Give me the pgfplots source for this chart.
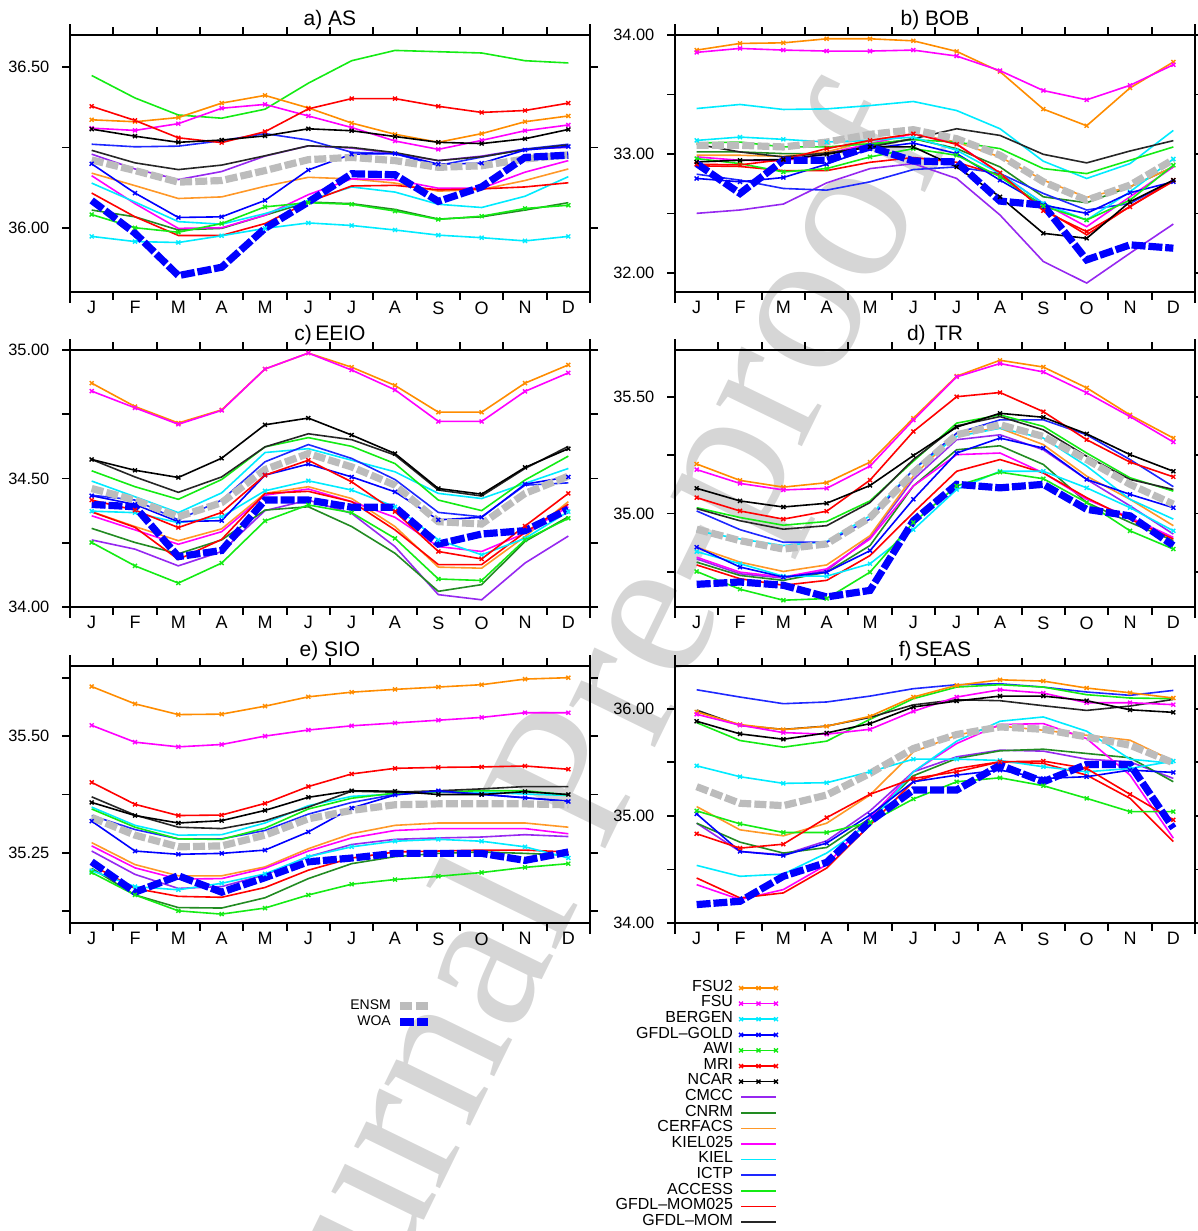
\documentclass[border=0pt]{standalone}
\usepackage{pgfplots}
\usepackage{pgfplotstable}
\pgfplotsset{compat=1.18}
\usepackage{fontspec}
\setmainfont{Liberation Sans}
\newfontfamily\wmfont{Liberation Serif}

% model colours
\definecolor{cOrange}{RGB}{255,140,0}
\definecolor{cOrangeB}{RGB}{255,152,40}
\definecolor{cMagenta}{RGB}{255,0,255}
\definecolor{cCyan}{RGB}{0,235,255}
\definecolor{cBlue}{RGB}{0,0,255}
\definecolor{cBlueB}{RGB}{30,40,255}
\definecolor{cGreen}{RGB}{20,235,20}
\definecolor{cRed}{RGB}{255,0,0}
\definecolor{cPurple}{RGB}{150,40,240}
\definecolor{cForest}{RGB}{34,139,34}
\definecolor{cEnsm}{RGB}{188,188,188}

% monthly salinity, one row per model (columns = months)
\pgfplotstableread{
name 1 2 3 4 5 6 7 8 9 10 11 12
FSU2 36.336 36.330 36.343 36.388 36.412 36.373 36.326 36.291 36.266 36.293 36.330 36.348
FSU 36.310 36.303 36.324 36.372 36.384 36.348 36.312 36.270 36.244 36.272 36.302 36.320
BERGEN 35.973 35.957 35.954 35.975 35.998 36.015 36.007 35.993 35.977 35.969 35.959 35.973
GOLD 36.199 36.108 36.032 36.034 36.085 36.180 36.229 36.231 36.198 36.201 36.242 36.253
AWI 36.041 36.000 35.986 36.013 36.065 36.078 36.073 36.052 36.026 36.036 36.060 36.070
MRI 36.378 36.334 36.280 36.265 36.299 36.370 36.402 36.402 36.378 36.359 36.365 36.388
NCAR 36.307 36.285 36.266 36.273 36.286 36.308 36.302 36.284 36.266 36.262 36.277 36.306
CMCC 36.229 36.183 36.150 36.175 36.223 36.255 36.248 36.231 36.209 36.223 36.245 36.250
CNRM 36.055 36.034 35.993 35.998 36.039 36.080 36.075 36.057 36.027 36.034 36.055 36.078
CERFACS 36.170 36.131 36.091 36.096 36.129 36.157 36.152 36.139 36.114 36.119 36.147 36.183
KIELq 36.162 36.075 35.998 36.000 36.039 36.103 36.152 36.149 36.123 36.123 36.173 36.209
KIEL 36.139 36.080 36.019 36.011 36.044 36.085 36.127 36.111 36.073 36.063 36.098 36.159
ICTP 36.260 36.252 36.254 36.271 36.293 36.273 36.235 36.230 36.194 36.220 36.245 36.260
ACCESS 36.474 36.404 36.351 36.341 36.369 36.450 36.520 36.552 36.548 36.544 36.520 36.513
MOMq 36.108 36.034 35.976 35.976 36.013 36.080 36.130 36.132 36.118 36.121 36.127 36.140
MOM 36.241 36.202 36.181 36.195 36.224 36.255 36.250 36.234 36.209 36.221 36.243 36.258
ENSM 36.211 36.178 36.142 36.147 36.178 36.212 36.219 36.209 36.188 36.193 36.214 36.227
WOA 36.085 35.983 35.851 35.877 35.998 36.080 36.168 36.165 36.082 36.127 36.219 36.226
}\rawA
\pgfplotstableread{
name 1 2 3 4 5 6 7 8 9 10 11 12
FSU2 33.873 33.929 33.934 33.968 33.968 33.951 33.862 33.692 33.377 33.237 33.555 33.773
FSU 33.854 33.887 33.873 33.865 33.865 33.873 33.823 33.700 33.533 33.455 33.577 33.750
BERGEN 33.114 33.142 33.123 33.100 33.114 33.142 33.031 32.835 32.584 32.445 32.682 32.958
GOLD 32.794 32.766 32.802 32.914 33.045 33.092 33.003 32.780 32.570 32.501 32.674 32.766
AWI 32.961 32.919 32.849 32.877 32.975 33.045 32.989 32.808 32.562 32.445 32.612 32.905
MRI 32.914 32.908 32.953 33.045 33.114 33.170 33.081 32.841 32.523 32.347 32.556 32.780
NCAR 32.933 32.947 32.953 32.997 33.059 33.059 32.891 32.640 32.333 32.291 32.598 32.780
CMCC 32.501 32.529 32.579 32.757 32.877 32.919 32.794 32.487 32.096 31.915 32.166 32.411
CNRM 33.017 33.017 33.003 33.003 33.073 33.128 33.045 32.891 32.640 32.590 32.724 32.891
CERFACS 32.989 32.989 32.980 33.017 33.114 33.170 33.100 32.975 32.780 32.635 32.724 32.891
KIELq 32.975 32.947 32.941 33.003 33.086 33.170 33.086 32.835 32.584 32.389 32.640 32.891
KIEL 33.382 33.416 33.374 33.379 33.407 33.441 33.365 33.212 32.939 32.794 32.919 33.198
ICTP 32.830 32.780 32.710 32.696 32.766 32.869 32.891 32.835 32.668 32.529 32.584 32.780
ACCESS 33.092 33.100 33.059 33.059 33.086 33.120 33.100 33.045 32.877 32.835 32.947 33.059
MOMq 32.900 32.895 32.860 32.860 32.930 32.970 32.930 32.820 32.540 32.320 32.560 32.770
MOM 33.081 33.017 32.975 33.008 33.059 33.128 33.212 33.156 32.997 32.925 33.025 33.112
ENSM 33.073 33.073 33.059 33.100 33.165 33.204 33.128 32.989 32.766 32.612 32.738 32.953
WOA 32.919 32.668 32.947 32.947 33.059 32.941 32.933 32.604 32.570 32.110 32.236 32.208
}\rawB
\pgfplotstableread{
name 1 2 3 4 5 6 7 8 9 10 11 12
FSU2 34.871 34.780 34.716 34.767 34.926 34.988 34.933 34.862 34.758 34.758 34.871 34.942
FSU 34.840 34.775 34.711 34.765 34.926 34.988 34.922 34.845 34.722 34.722 34.839 34.911
BERGEN 34.373 34.367 34.328 34.351 34.452 34.491 34.455 34.390 34.261 34.203 34.267 34.371
GOLD 34.433 34.399 34.332 34.336 34.513 34.556 34.506 34.448 34.339 34.349 34.478 34.506
AWI 34.251 34.160 34.093 34.171 34.335 34.397 34.367 34.267 34.109 34.103 34.261 34.345
MRI 34.416 34.377 34.309 34.368 34.513 34.571 34.487 34.371 34.216 34.187 34.315 34.442
NCAR 34.574 34.532 34.504 34.579 34.709 34.735 34.669 34.597 34.461 34.439 34.543 34.616
CMCC 34.261 34.225 34.160 34.216 34.375 34.416 34.364 34.235 34.048 34.028 34.171 34.276
CNRM 34.306 34.251 34.207 34.261 34.377 34.390 34.313 34.209 34.061 34.087 34.255 34.351
CERFACS 34.371 34.313 34.258 34.304 34.442 34.468 34.422 34.313 34.155 34.151 34.274 34.410
KIELq 34.355 34.300 34.244 34.293 34.435 34.459 34.410 34.349 34.235 34.216 34.287 34.390
KIEL 34.490 34.429 34.367 34.444 34.601 34.616 34.571 34.526 34.442 34.422 34.481 34.539
ICTP 34.435 34.416 34.339 34.416 34.565 34.632 34.578 34.496 34.368 34.351 34.474 34.483
ACCESS 34.530 34.468 34.419 34.496 34.623 34.659 34.625 34.558 34.416 34.375 34.494 34.587
MOMq 34.370 34.310 34.185 34.263 34.442 34.450 34.410 34.300 34.165 34.165 34.290 34.400
MOM 34.574 34.506 34.446 34.506 34.623 34.674 34.651 34.591 34.455 34.432 34.539 34.625
ENSM 34.461 34.416 34.351 34.406 34.535 34.597 34.545 34.474 34.332 34.323 34.442 34.509
WOA 34.399 34.390 34.196 34.220 34.416 34.416 34.388 34.388 34.245 34.284 34.297 34.380
}\rawC
\pgfplotstableread{
name 1 2 3 4 5 6 7 8 9 10 11 12
FSU2 35.212 35.142 35.113 35.132 35.220 35.408 35.588 35.656 35.627 35.538 35.422 35.323
FSU 35.188 35.129 35.101 35.108 35.203 35.400 35.585 35.642 35.606 35.517 35.415 35.306
BERGEN 34.837 34.785 34.732 34.732 34.785 34.931 35.103 35.181 35.181 35.110 35.025 34.926
GOLD 34.856 34.771 34.728 34.749 34.841 35.061 35.259 35.323 35.280 35.146 35.082 35.025
AWI 34.752 34.676 34.629 34.636 34.749 34.962 35.118 35.177 35.149 35.047 34.926 34.848
MRI 35.068 35.011 34.976 35.010 35.143 35.351 35.500 35.518 35.436 35.316 35.220 35.157
NCAR 35.108 35.054 35.028 35.044 35.120 35.248 35.370 35.429 35.412 35.341 35.252 35.181
CMCC 34.806 34.742 34.724 34.756 34.898 35.146 35.316 35.337 35.273 35.146 35.033 34.912
CNRM 34.792 34.735 34.714 34.749 34.863 35.118 35.273 35.290 35.210 35.047 34.962 34.884
CERFACS 34.856 34.792 34.752 34.780 34.905 35.160 35.344 35.365 35.295 35.160 35.061 34.948
KIELq 34.813 34.749 34.728 34.763 34.891 35.118 35.252 35.259 35.174 35.061 34.983 34.898
KIEL 34.926 34.891 34.863 34.880 34.990 35.188 35.330 35.365 35.323 35.203 35.061 34.976
ICTP 35.011 34.931 34.877 34.877 34.976 35.188 35.344 35.401 35.401 35.337 35.231 35.115
ACCESS 35.025 34.983 34.950 34.966 35.054 35.224 35.387 35.422 35.373 35.259 35.153 35.096
MOMq 34.780 34.721 34.693 34.714 34.820 35.004 35.181 35.231 35.174 35.068 34.976 34.891
MOM 35.021 34.969 34.933 34.948 35.047 35.231 35.375 35.415 35.358 35.245 35.146 35.103
ENSM 34.933 34.884 34.848 34.870 34.983 35.174 35.337 35.380 35.330 35.231 35.125 35.040
WOA 34.697 34.707 34.693 34.643 34.671 34.969 35.125 35.110 35.125 35.018 34.990 34.863
}\rawD
\pgfplotstableread{
name 1 2 3 4 5 6 7 8 9 10 11 12
FSU2 35.606 35.569 35.546 35.547 35.564 35.584 35.594 35.600 35.605 35.610 35.622 35.625
FSU 35.523 35.487 35.477 35.482 35.500 35.513 35.522 35.528 35.534 35.540 35.550 35.550
BERGEN 35.212 35.178 35.171 35.185 35.205 35.242 35.263 35.275 35.279 35.275 35.263 35.239
GOLD 35.318 35.254 35.247 35.249 35.256 35.295 35.346 35.374 35.383 35.375 35.368 35.360
AWI 35.208 35.160 35.126 35.119 35.132 35.160 35.183 35.193 35.200 35.208 35.219 35.227
MRI 35.401 35.354 35.330 35.331 35.356 35.392 35.419 35.431 35.433 35.434 35.436 35.429
NCAR 35.358 35.330 35.314 35.319 35.341 35.369 35.383 35.382 35.375 35.375 35.381 35.375
CMCC 35.254 35.204 35.174 35.178 35.203 35.242 35.268 35.279 35.282 35.284 35.289 35.285
CNRM 35.217 35.160 35.133 35.132 35.154 35.195 35.227 35.242 35.249 35.252 35.249 35.245
CERFACS 35.272 35.225 35.201 35.201 35.220 35.259 35.291 35.309 35.314 35.314 35.314 35.305
KIELq 35.265 35.218 35.194 35.195 35.217 35.254 35.282 35.298 35.302 35.302 35.302 35.291
KIEL 35.348 35.309 35.288 35.289 35.314 35.351 35.371 35.376 35.380 35.380 35.376 35.373
ICTP 35.330 35.300 35.280 35.280 35.298 35.333 35.358 35.375 35.381 35.376 35.368 35.361
ACCESS 35.344 35.305 35.280 35.279 35.303 35.344 35.367 35.378 35.381 35.383 35.383 35.374
MOMq 35.224 35.174 35.157 35.155 35.176 35.213 35.239 35.252 35.254 35.256 35.256 35.252
MOM 35.370 35.331 35.305 35.302 35.319 35.348 35.382 35.380 35.383 35.387 35.392 35.392
ENSM 35.326 35.288 35.263 35.265 35.288 35.323 35.341 35.353 35.355 35.355 35.355 35.353
WOA 35.231 35.166 35.201 35.166 35.197 35.231 35.239 35.249 35.249 35.249 35.234 35.252
}\rawE
\pgfplotstableread{
name 1 2 3 4 5 6 7 8 9 10 11 12
FSU2 35.971 35.853 35.806 35.837 35.930 36.110 36.219 36.271 36.259 36.194 36.150 36.101
FSU 35.949 35.847 35.778 35.763 35.809 35.977 36.110 36.178 36.147 36.057 36.057 36.039
BERGEN 35.468 35.366 35.304 35.310 35.412 35.530 35.530 35.518 35.459 35.412 35.443 35.512
GOLD 35.019 34.668 34.631 34.746 35.009 35.319 35.381 35.428 35.350 35.366 35.428 35.406
AWI 35.047 34.926 34.845 34.845 34.940 35.158 35.319 35.356 35.282 35.164 35.040 35.040
MRI 34.833 34.699 34.736 34.984 35.202 35.350 35.412 35.505 35.512 35.443 35.202 34.963
NCAR 35.884 35.766 35.716 35.775 35.862 36.017 36.073 36.119 36.119 36.076 35.991 35.967
CMCC 34.932 34.668 34.637 34.767 35.047 35.412 35.552 35.614 35.605 35.530 35.505 35.350
CNRM 34.932 34.755 34.653 34.705 34.978 35.375 35.536 35.608 35.623 35.583 35.543 35.319
CERFACS 35.087 34.870 34.814 34.932 35.195 35.598 35.753 35.840 35.800 35.753 35.707 35.512
KIELq 34.358 34.219 34.312 34.544 34.984 35.412 35.676 35.853 35.862 35.722 35.381 34.792
KIEL 34.538 34.436 34.457 34.653 34.932 35.412 35.698 35.884 35.924 35.791 35.530 35.490
ICTP 36.178 36.110 36.048 36.064 36.119 36.188 36.225 36.234 36.203 36.157 36.126 36.172
ACCESS 35.871 35.704 35.642 35.698 35.902 36.095 36.203 36.225 36.203 36.132 36.101 36.095
MOMq 34.420 34.234 34.281 34.513 34.916 35.319 35.443 35.505 35.490 35.381 35.164 34.761
MOM 35.988 35.845 35.808 35.839 35.920 36.037 36.085 36.076 36.029 35.985 36.026 36.088
ENSM 35.273 35.118 35.096 35.195 35.397 35.629 35.760 35.831 35.809 35.738 35.660 35.496
WOA 34.172 34.203 34.436 34.566 34.947 35.242 35.242 35.474 35.319 35.481 35.481 34.885
}\rawF
\pgfplotstabletranspose[colnames from=name]\tabA\rawA
\pgfplotstabletranspose[colnames from=name]\tabB\rawB
\pgfplotstabletranspose[colnames from=name]\tabC\rawC
\pgfplotstabletranspose[colnames from=name]\tabD\rawD
\pgfplotstabletranspose[colnames from=name]\tabE\rawE
\pgfplotstabletranspose[colnames from=name]\tabF\rawF

\pgfplotsset{
  mk/.style={line width=0.8pt, mark=x, mark size=1.4pt, mark options={solid, line width=0.7pt}},
  pl/.style={line width=0.8pt, mark=none},
  ensm/.style={line width=3.6pt, color=cEnsm, dash pattern=on 6pt off 1.6pt, mark=none},
  woa/.style={line width=3.6pt, color=cBlue, dash pattern=on 7pt off 1.4pt, mark=none},
  panel/.style={
    scale only axis, width=260pt, height=128.5pt,
    xmin=0.5, xmax=12.5,
    xtick={0.5,1.5,...,12.5}, xticklabels={},
    extra x ticks={1,...,12},
    extra x tick labels={J,F,M,A,M,J,J,A,S,O,N,D},
    extra x tick style={major tick length=0pt},
    tick align=outside, major tick length=3.8pt, minor tick length=3.8pt,
    every tick/.style={black, line width=0.9pt},
    separate axis lines,
    axis line style={line width=0.9pt},
    y axis line style={shorten <=-5.5pt, shorten >=-5.5pt},
    scaled y ticks=false,
    yticklabel style={/pgf/number format/fixed, /pgf/number format/fixed zerofill,
      /pgf/number format/precision=2, /pgf/number format/assume math mode=true,
      xshift=-3pt},
    tick label style={font=\fontsize{8.2}{8.2}\selectfont},
    xticklabel style={font=\fontsize{9}{9}\selectfont, yshift=-1.2pt},
    title style={font=\fontsize{10.5}{10.5}\selectfont, at={(0.5,1)}, anchor=base, yshift=-1.3pt},
    clip=false,
  },
}

\newcommand\panelplots[1]{%
  \addplot[pl, cPurple] table[x=colnames, y=CMCC]{#1};
  \addplot[pl, cForest] table[x=colnames, y=CNRM]{#1};
  \addplot[pl, cOrangeB] table[x=colnames, y=CERFACS]{#1};
  \addplot[pl, cMagenta] table[x=colnames, y=KIELq]{#1};
  \addplot[pl, cCyan] table[x=colnames, y=KIEL]{#1};
  \addplot[pl, cBlueB] table[x=colnames, y=ICTP]{#1};
  \addplot[pl, cGreen] table[x=colnames, y=ACCESS]{#1};
  \addplot[pl, cRed] table[x=colnames, y=MOMq]{#1};
  \addplot[pl, black!85] table[x=colnames, y=MOM]{#1};
  \addplot[mk, cOrange] table[x=colnames, y=FSU2]{#1};
  \addplot[mk, cMagenta] table[x=colnames, y=FSU]{#1};
  \addplot[mk, cCyan] table[x=colnames, y=BERGEN]{#1};
  \addplot[mk, cBlue] table[x=colnames, y=GOLD]{#1};
  \addplot[mk, cGreen] table[x=colnames, y=AWI]{#1};
  \addplot[mk, cRed] table[x=colnames, y=MRI]{#1};
  \addplot[mk, black] table[x=colnames, y=NCAR]{#1};
  \addplot[ensm] table[x=colnames, y=ENSM]{#1};
  \addplot[woa] table[x=colnames, y=WOA]{#1};
}

\begin{document}
\begin{tikzpicture}
\path[use as bounding box] (0pt,0pt) rectangle (599pt,615.5pt);

% watermark
\node[rotate=64, font=\wmfont\fontsize{104}{104}\selectfont, text=black!16, anchor=center]
  at (293pt,229pt) {Journal Pre-proof};

\begin{axis}[panel, at={(35pt,469.5pt)}, anchor=south west, title={a) AS},
  ymin=35.80, ymax=36.60, ytick={36,36.5}, minor ytick={36.25}]
  \panelplots{\tabA}
\end{axis}
\begin{axis}[panel, at={(337.5pt,469.5pt)}, anchor=south west, title={b) BOB},
  ymin=31.84, ymax=34.00, ytick={32,33,34}, minor ytick={32.5,33.5}]
  \panelplots{\tabB}
\end{axis}
\begin{axis}[panel, at={(35pt,312pt)}, anchor=south west, title={c)\,EEIO},
  ymin=34.00, ymax=35.00, ytick={34,34.5,35}, minor ytick={34.25,34.75}]
  \panelplots{\tabC}
\end{axis}
\begin{axis}[panel, at={(337.5pt,312pt)}, anchor=south west, title={d) \,TR},
  ymin=34.60, ymax=35.70, ytick={35,35.5}, minor ytick={34.75,35.25}]
  \panelplots{\tabD}
\end{axis}
\begin{axis}[panel, at={(35pt,154pt)}, anchor=south west, title={e) SIO},
  ymin=35.10, ymax=35.65, ytick={35.25,35.5}, minor ytick={35.125,35.375,35.625}]
  \panelplots{\tabE}
\end{axis}
\begin{axis}[panel, at={(337.5pt,154pt)}, anchor=south west, title={f)\,SEAS},
  ymin=34.00, ymax=36.40, ytick={34,35,36}, minor ytick={34.5,35.5}]
  \panelplots{\tabF}
\end{axis}

% legend: ensemble mean and observations
\begin{axis}[at={(0pt,0pt)}, anchor=south west, scale only axis, width=599pt, height=615.5pt,
  xmin=0, xmax=1, ymin=0, ymax=1, hide axis,
  legend style={at={(0.3606,0.1893)}, anchor=north east, draw=none, fill=none,
    inner sep=0pt, outer sep=0pt, font=\fontsize{7}{7}\selectfont,
    nodes={inner sep=0pt, text height=5.6pt, text depth=2.4pt}, column sep=3pt, row sep=0pt},
  legend cell align=right, legend plot pos=right,
  legend image code/.code={\draw[#1] (0pt,0pt) -- (14pt,0pt);}]
  \addlegendimage{ensm} \addlegendentry{ENSM}
  \addlegendimage{woa} \addlegendentry{WOA}
\end{axis}

% legend: individual models
\begin{axis}[at={(0pt,0pt)}, anchor=south west, scale only axis, width=599pt, height=615.5pt,
  xmin=0, xmax=1, ymin=0, ymax=1, hide axis,
  legend style={at={(0.6494,0.2037)}, anchor=north east, draw=none, fill=none,
    inner sep=0pt, outer sep=0pt, font=\fontsize{8}{8}\selectfont,
    nodes={inner sep=0pt, text height=5.5pt, text depth=2.3pt}, column sep=3pt, row sep=0pt},
  legend cell align=right, legend plot pos=right,
  legend image code/.code={\draw[#1] plot coordinates {(0pt,0pt) (8.75pt,0pt) (17.5pt,0pt)};}]
  \addlegendimage{mk, cOrange} \addlegendentry{FSU2}
  \addlegendimage{mk, cMagenta} \addlegendentry{FSU}
  \addlegendimage{mk, cCyan} \addlegendentry{BERGEN}
  \addlegendimage{mk, cBlue} \addlegendentry{GFDL--GOLD}
  \addlegendimage{mk, cGreen} \addlegendentry{AWI}
  \addlegendimage{mk, cRed} \addlegendentry{MRI}
  \addlegendimage{mk, black} \addlegendentry{NCAR}
  \addlegendimage{pl, cPurple} \addlegendentry{CMCC}
  \addlegendimage{pl, cForest} \addlegendentry{CNRM}
  \addlegendimage{pl, cOrangeB} \addlegendentry{CERFACS}
  \addlegendimage{pl, cMagenta} \addlegendentry{KIEL025}
  \addlegendimage{pl, cCyan} \addlegendentry{KIEL}
  \addlegendimage{pl, cBlueB} \addlegendentry{ICTP}
  \addlegendimage{pl, cGreen} \addlegendentry{ACCESS}
  \addlegendimage{pl, cRed} \addlegendentry{GFDL--MOM025}
  \addlegendimage{pl, black!85} \addlegendentry{GFDL--MOM}
\end{axis}
\end{tikzpicture}
\end{document}
